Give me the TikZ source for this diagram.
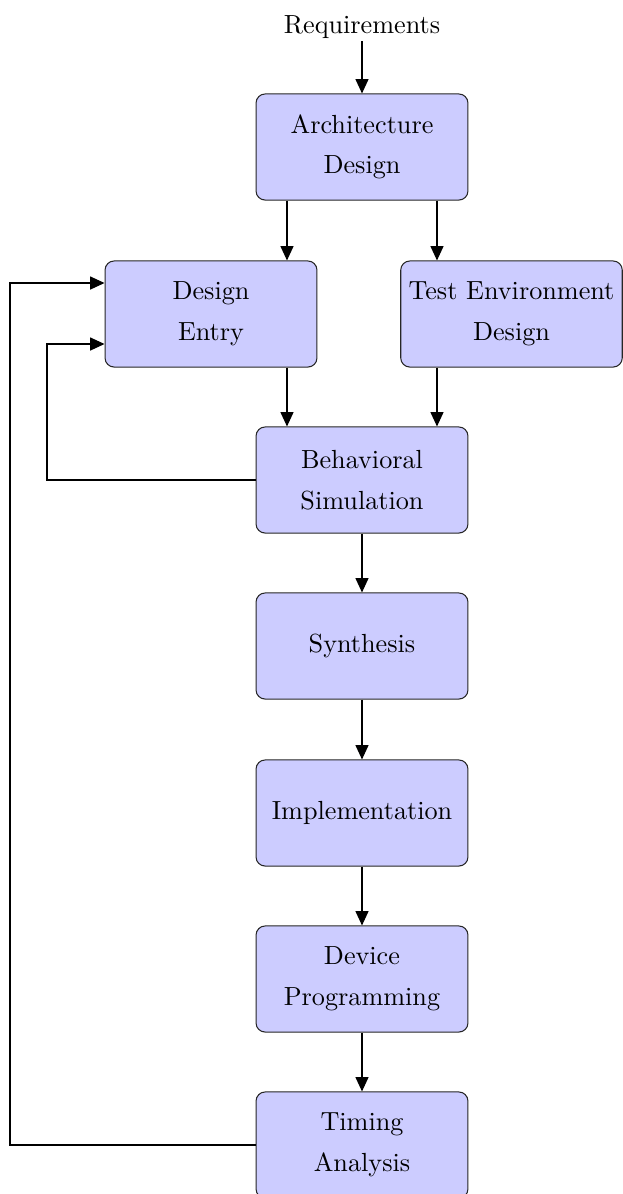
\documentclass[tikz,border=0pt]{standalone}
\usetikzlibrary{arrows.meta,calc}
\definecolor{boxfill}{RGB}{204,204,255}
\tikzset{
  stage/.style={draw=black!85, fill=boxfill, rounded corners=3.5pt,
    minimum width=80.9pt, minimum height=40.5pt, align=center, inner sep=3pt},
  arr/.style={-{Triangle[length=5.5pt,width=5pt]}},
}
\begin{document}
\begin{tikzpicture}[x=0.3817pt, y=-0.3817pt, line width=0.4pt]
  \useasboundingbox (0,0) rectangle (623,1194);

  % input label
  \node[anchor=base, inner sep=1pt] (req) at (362,33) {Requirements};

  % design flow stages
  \node[stage] (arch) at (362,147)   {Architecture\\[3.5pt]Design};
  \node[stage] (de)   at (211,314)   {Design\\[3.5pt]Entry};
  \node[stage] (te)   at (511.5,314) {Test Environment\\[3.5pt]Design};
  \node[stage] (beh)  at (362,480)   {Behavioral\\[3.5pt]Simulation};
  \node[stage] (syn)  at (362,646)   {Synthesis};
  \node[stage] (impl) at (362,813)   {Implementation};
  \node[stage] (dev)  at (362,979)   {Device\\[3.5pt]Programming};
  \node[stage] (tim)  at (362,1145)  {Timing\\[3.5pt]Analysis};

  % vertical tracks for the split / merge arrows
  \coordinate (lt) at ($(arch.south)+(-75,0)$);
  \coordinate (rt) at ($(arch.south)+(75,0)$);
  % entry points of the feedback loops on Design Entry
  \coordinate (deup) at ($(de.west)+(0,-31)$);
  \coordinate (delo) at ($(de.west)+(0,30)$);
  % x positions of the feedback return lines
  \coordinate (fbin)  at (47,0);
  \coordinate (fbout) at (10,0);

  \draw[arr] (req.south) -- (arch.north);
  \draw[arr] (lt) -- (lt |- de.north);
  \draw[arr] (rt) -- (rt |- te.north);
  \draw[arr] (lt |- de.south) -- (lt |- beh.north);
  \draw[arr] (rt |- te.south) -- (rt |- beh.north);
  \draw[arr] (beh.south) -- (syn.north);
  \draw[arr] (syn.south) -- (impl.north);
  \draw[arr] (impl.south) -- (dev.north);
  \draw[arr] (dev.south) -- (tim.north);

  % feedback loops back to Design Entry
  \draw[arr] (beh.west) -- (beh.west -| fbin) |- (delo);
  \draw[arr] (tim.west) -- (tim.west -| fbout) |- (deup);
\end{tikzpicture}
\end{document}
